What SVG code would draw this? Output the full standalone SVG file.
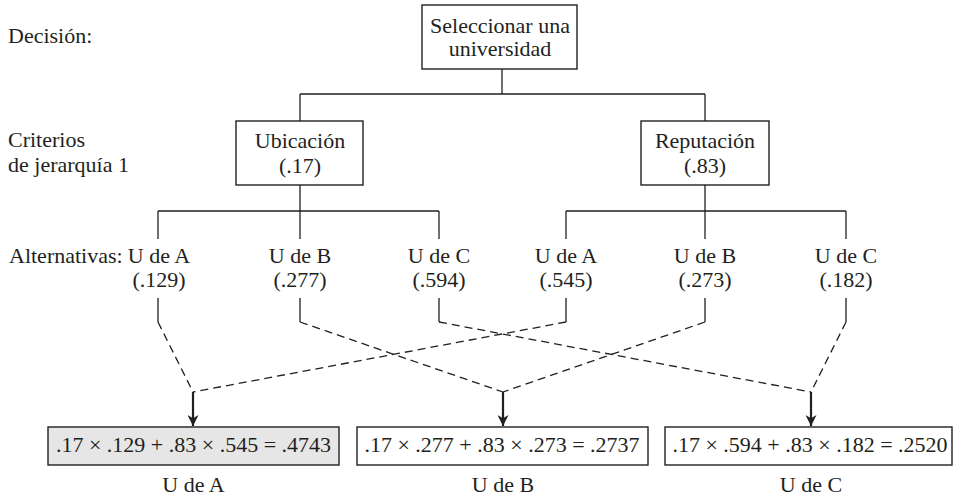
<svg xmlns="http://www.w3.org/2000/svg" width="954" height="498" viewBox="0 0 954 498" font-family="'Liberation Serif', 'DejaVu Serif', serif">
<style>
text{font-family:'Liberation Serif','DejaVu Serif',serif;font-size:22px;fill:#231f20}
.c{text-anchor:middle}
.box{fill:#fff;stroke:#231f20;stroke-width:1.4}
.shade{fill:#e6e6e6}
.ln{fill:none;stroke:#231f20;stroke-width:1.3}
.dash{fill:none;stroke:#231f20;stroke-width:1.3;stroke-dasharray:8 5}
.arr{fill:none;stroke:#231f20;stroke-width:2.2}
</style>
<defs>
<marker id="ah" viewBox="0 0 10 10" refX="10" refY="5" markerWidth="5" markerHeight="5" markerUnits="strokeWidth" orient="auto">
<path d="M0,0 L10,5 L0,10 L3,5 Z" fill="#231f20"/>
</marker>
</defs>
<rect width="954" height="498" fill="#fff"/>

<g id="labels">
<text x="8" y="43">Decisión:</text>
<text x="8" y="147">Criterios</text>
<text x="8" y="172">de jerarquía 1</text>
<text x="9" y="263">Alternativas:</text>
</g>

<g id="connectors">
<path class="ln" d="M502,69 V94 M300,94 H705 M300,94 V121 M705,94 V121"/>
<path class="ln" d="M300,185 V211 M158,211 H439 M158,211 V239 M300,211 V239 M439,211 V239"/>
<path class="ln" d="M705,185 V211 M566,211 H846 M566,211 V239 M705,211 V239 M846,211 V239"/>
<path class="ln" d="M158,298 V322 M300,298 V322 M439,298 V322 M566,298 V322 M705,298 V322 M846,298 V322"/>
<path class="dash" d="M158,322 L193,392 M566,322 L193,392"/>
<path class="dash" d="M300,322 L503,392 M705,322 L503,392"/>
<path class="dash" d="M439,322 L811,392 M846,322 L811,392"/>
<path class="arr" d="M193,392 V426" marker-end="url(#ah)"/>
<path class="arr" d="M503,392 V426" marker-end="url(#ah)"/>
<path class="arr" d="M811,392 V426" marker-end="url(#ah)"/>
</g>

<g id="decision">
<rect class="box" x="422" y="5" width="155" height="64"/>
<text class="c" x="500" y="33">Seleccionar una</text>
<text class="c" x="500" y="56">universidad</text>
</g>

<g id="ubicacion">
<rect class="box" x="236" y="121" width="127" height="64"/>
<text class="c" x="300" y="148">Ubicación</text>
<text class="c" x="300" y="173">(.17)</text>
</g>

<g id="reputacion">
<rect class="box" x="641" y="121" width="128" height="64"/>
<text class="c" x="705" y="148">Reputación</text>
<text class="c" x="705" y="173">(.83)</text>
</g>

<g id="alt-ubi-a"><text class="c" x="159" y="263">U de A</text><text class="c" x="159" y="287">(.129)</text></g>
<g id="alt-ubi-b"><text class="c" x="300" y="263">U de B</text><text class="c" x="300" y="287">(.277)</text></g>
<g id="alt-ubi-c"><text class="c" x="439" y="263">U de C</text><text class="c" x="439" y="287">(.594)</text></g>
<g id="alt-rep-a"><text class="c" x="566" y="263">U de A</text><text class="c" x="566" y="287">(.545)</text></g>
<g id="alt-rep-b"><text class="c" x="705" y="263">U de B</text><text class="c" x="705" y="287">(.273)</text></g>
<g id="alt-rep-c"><text class="c" x="846" y="263">U de C</text><text class="c" x="846" y="287">(.182)</text></g>

<g id="result-a">
<rect class="box shade" x="48" y="427" width="291" height="38"/>
<text class="c" x="193.5" y="452">.17 × .129 + .83 × .545 = .4743</text>
<text class="c" x="193.5" y="492">U de A</text>
</g>
<g id="result-b">
<rect class="box" x="357" y="427" width="291" height="38"/>
<text class="c" x="502" y="452">.17 × .277 + .83 × .273 = .2737</text>
<text class="c" x="503" y="492">U de B</text>
</g>
<g id="result-c">
<rect class="box" x="665" y="427" width="287" height="38"/>
<text class="c" x="810" y="452">.17 × .594 + .83 × .182 = .2520</text>
<text class="c" x="811" y="492">U de C</text>
</g>
</svg>
